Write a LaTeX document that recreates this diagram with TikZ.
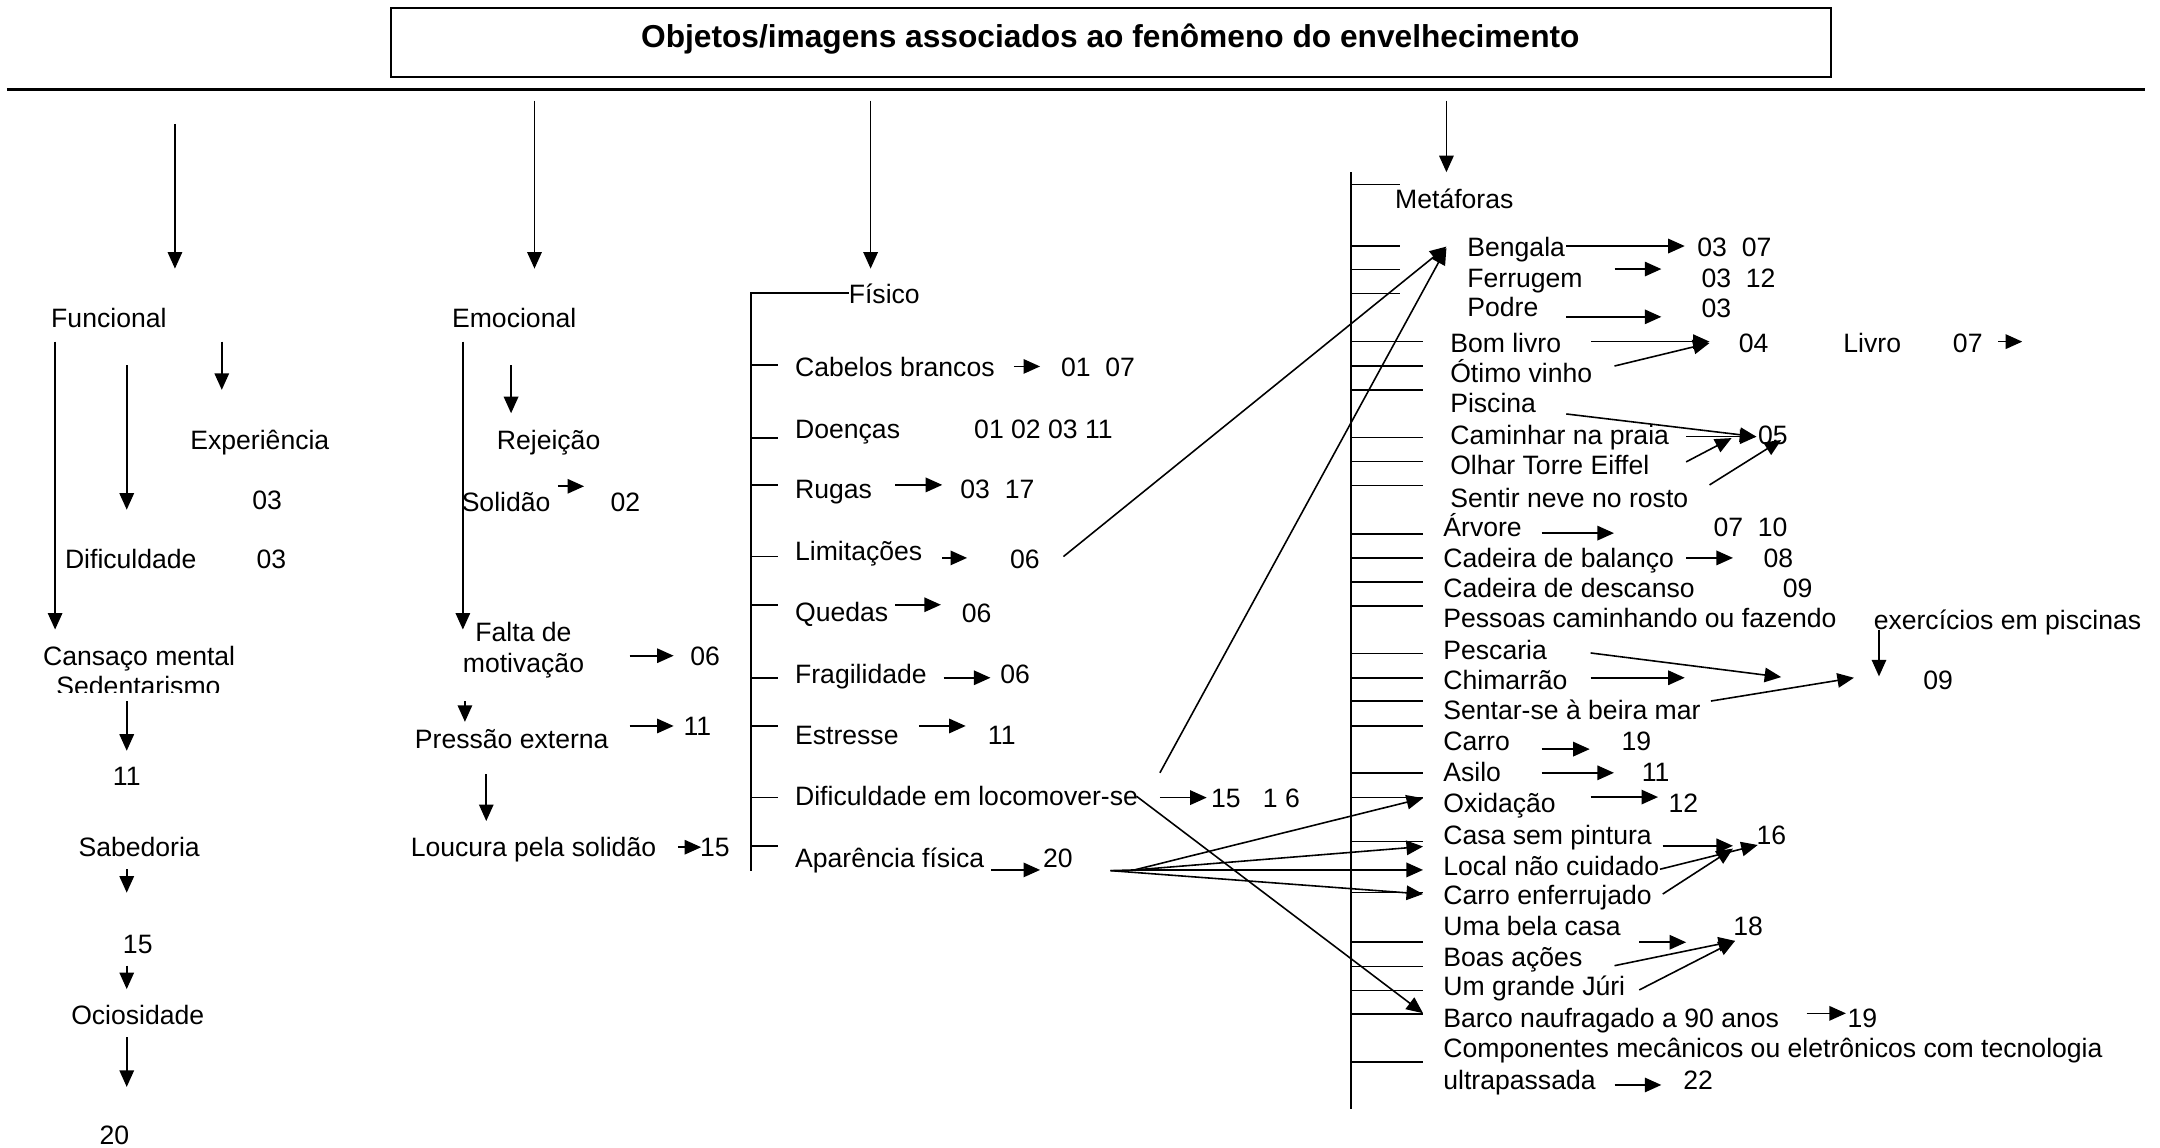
\documentclass[tikz,border=0pt]{standalone}
\usepackage{fontspec}
\setmainfont{Liberation Sans}
\usetikzlibrary{arrows.meta}
\tikzset{
  lbl/.style={anchor=west, inner sep=0pt, text height=16pt, text depth=2pt, font=\fontsize{19.3}{23}\selectfont},
  lblc/.style={lbl, anchor=center},
  ar/.style={-{Triangle[length=12pt,width=10.5pt]}, line width=1.15pt},
  ln/.style={line width=1.15pt},
  barline/.style={line width=1.5pt},
}
\begin{document}
\begin{tikzpicture}[x=1pt,y=-1pt]
\useasboundingbox (0,0) rectangle (1568,833);
% title
\draw[line width=1.3pt] (284,6) rectangle (1329,56);
\node[font=\bfseries\fontsize{23}{27}\selectfont, inner sep=0pt] (title) at (806,28) {Objetos/imagens associados ao fenômeno do envelhecimento};
\draw[line width=1.7pt] (5,65) -- (1557,65);
% top arrows
\draw[ar] (127,90) -- (127,195);
\draw[ar] (388,73) -- (388,195);
\draw[ar] (632,73) -- (632,195);
\draw[ar] (1050,73) -- (1050,125);

% ---------- Funcional
\node[lbl] (func) at (37,231) {Funcional};
\node[lbl] (exp) at (138,319) {Experiência};
\node[lbl] (exp03) at (183,363) {03};
\node[lbl] (dif) at (47,406) {Dificuldade};
\node[lbl] (dif03) at (186,406) {03};
\node[lblc] (cans) at (101,476) {Cansaço mental};
\begin{scope}
\clip (0,485) rectangle (300,503);
\node[lblc] (sed) at (100.5,498) {Sedentarismo};
\end{scope}
\node[lblc] (f11) at (92,563) {11};
\node[lblc] (sab) at (101,615) {Sabedoria};
\node[lblc] (f15) at (100,685) {15};
\node[lblc] (oci) at (100,737) {Ociosidade};
\node[lblc] (f20) at (83,824) {20};
\draw[ar] (40,248) -- (40,457);
\draw[ar] (92,265) -- (92,370);
\draw[ar] (161,248) -- (161,283);
\draw[ar] (92,509) -- (92,545);
\draw[ar] (92,631) -- (92,648);
\draw[ar] (92,701) -- (92,718);
\draw[ar] (92,753) -- (92,789);

% ---------- Emocional
\node[lbl] (emo) at (328,231) {Emocional};
\node[lbl] (rej) at (360.5,319) {Rejeição};
\node[lbl] (sol) at (335,364) {Solidão};
\node[lbl] (e02) at (443,364) {02};
\node[lblc] (falta) at (380,459) {Falta de};
\node[lblc] (motiv) at (380,481) {motivação};
\node[lbl] (e06) at (501,476) {06};
\node[lbl] (press) at (301,536) {Pressão externa};
\node[lbl] (e11) at (496,527) {11};
\node[lbl] (louc) at (298,615) {Loucura pela solidão};
\node[lbl] (e15) at (508,615) {15};
\draw[ar] (336,248) -- (336,457);
\draw[ar] (371,265) -- (371,300);
\draw[ar] (405,353) -- (424,353);
\draw[ar] (457,476) -- (489,476);
\draw[ar] (337.5,509) -- (337.5,524);
\draw[ar] (457,527) -- (489,527);
\draw[ar] (353,562) -- (353,596);
\draw[ar] (492,615) -- (509,615);

% ---------- Fisico
\draw[barline] (616,213) -- (545,213) -- (545,632);
\foreach \yy in {265,318,352,404,439,492,527,579,614} \draw[ln] (545,\yy) -- (565,\yy);
\node[lbl] (fis) at (616,213) {Físico};
\node[lbl] (cab) at (577,266) {Cabelos brancos};
\node[lbl] (cabn) at (770,266) {01\ \ 07};
\node[lbl] (doe) at (577,311) {Doenças};
\node[lbl] (doen) at (707,311) {01 02 03 11};
\node[lbl] (rug) at (577,355) {Rugas};
\node[lbl] (rugn) at (697,355) {03\ \ 17};
\node[lbl] (lim) at (577,400) {Limitações};
\node[lbl] (limn) at (733,406) {06};
\node[lbl] (que) at (577,444) {Quedas};
\node[lbl] (quen) at (698,445) {06};
\node[lbl] (fra) at (577,489) {Fragilidade};
\node[lbl] (fran) at (726,489) {06};
\node[lbl] (est) at (577,533.5) {Estresse};
\node[lbl] (estn) at (717,533.5) {11};
\node[lbl] (loc) at (577,578) {Dificuldade em locomover-se};
\node[lbl] (locn) at (879,579) {15\ \ \ 1 6};
\node[lbl] (apa) at (577,623) {Aparência física};
\node[lbl] (apan) at (757,623) {20};
\draw[ar] (736,266) -- (755,266);
\draw[ar] (650,352) -- (684,352);
\draw[ar] (684,405) -- (702,405);
\draw[ar] (650,439) -- (683,439);
\draw[ar] (685,492) -- (719,492);
\draw[ar] (667,527) -- (701,527);
\draw[ar] (842,579) -- (876,579);
\draw[ar] (719.5,631.5) -- (755,631.5);
% long lines
\draw[ar] (772,404) -- (1050,179);
\draw[ar] (842,561) -- (1050,180);
\draw[ar] (825,578) -- (1033,735.5);
\coordinate (fanA) at (806,632);
\coordinate (fanB) at (823.5,631.5);
\draw[ln] (fanA) -- (fanB);
\draw[ar] (fanB) -- (1033,579.4);
\draw[ar] (fanB) -- (1033,614.5);
\draw[ar] (fanB) -- (1033,631.5);
\draw[ar] (fanA) -- (1033,649);

% ---------- Metaforas
\draw[barline] (981,125) -- (981,805);
\foreach \yy in {134,178.5,195.5,213} \draw[ln] (981,\yy) -- (1016,\yy);
\foreach \yy in {248,265.5,283,317.5,335,352.5,387.5,405,422.5,440,474.5,492,509,527,561,579,611,648,684,701.5,719,736,771} \draw[ln] (981,\yy) -- (1033,\yy);
\node[lbl] (met) at (1012.6,144.6) {Metáforas};
\node[lbl] (ben) at (1065,179.5) {Bengala};
\node[lbl] (benn) at (1232,179.5) {03\ \ 07};
\node[lbl] (fer) at (1065,202) {Ferrugem};
\node[lbl] (fern) at (1235,201.6) {03\ \ 12};
\node[lbl] (pod) at (1065,223) {Podre};
\node[lbl] (podn) at (1235,223.5) {03};
\node[lbl] (bom) at (1052.6,248.7) {Bom livro};
\node[lbl] (bomn) at (1262,249) {04};
\node[lbl] (liv) at (1338,249) {Livro};
\node[lbl] (livn) at (1417.5,249) {07};
\node[lbl] (oti) at (1052.6,271) {Ótimo vinho};
\node[lbl] (pis) at (1052.6,292.7) {Piscina};
\node[lbl] (cam) at (1052.6,315.8) {Caminhar na praia};
\node[lbl] (camn) at (1276,316) {05};
\node[lbl] (olh) at (1052.6,337.5) {Olhar Torre Eiffel};
\node[lbl] (sen) at (1052.6,361.6) {Sentir neve no rosto};
\node[lbl] (arv) at (1047.6,382.3) {Árvore};
\node[lbl] (arvn) at (1243.7,382.3) {07\ \ 10};
\node[lbl] (cbal) at (1047.6,405) {Cadeira de balanço};
\node[lbl] (cbaln) at (1280,405) {08};
\node[lbl] (cdes) at (1047.6,427) {Cadeira de descanso};
\node[lbl] (cdesn) at (1294,427) {09};
\node[lbl] (pes) at (1047.6,448.6) {Pessoas caminhando ou fazendo};
\node[lbl] (exe) at (1360,450) {exercícios em piscinas};
\node[lbl] (exen) at (1396,493.6) {09};
\node[lbl] (pesc) at (1047.6,471.8) {Pescaria};
\node[lbl] (chi) at (1047.6,493.6) {Chimarrão};
\node[lbl] (sent) at (1047.6,515.4) {Sentar-se à beira mar};
\node[lbl] (car) at (1047.6,538) {Carro};
\node[lbl] (carn) at (1177,538) {19};
\node[lbl] (asi) at (1047.6,560) {Asilo};
\node[lbl] (asin) at (1191.7,560) {11};
\node[lbl] (oxi) at (1047.6,583) {Oxidação};
\node[lbl] (oxin) at (1211,583) {12};
\node[lbl] (casa) at (1047.6,606) {Casa sem pintura};
\node[lbl] (casan) at (1275,606) {16};
\node[lbl] (loca) at (1047.6,628.6) {Local não cuidado};
\node[lbl] (carr) at (1047.6,649.7) {Carro enferrujado};
\node[lbl] (uma) at (1047.6,672) {Uma bela casa};
\node[lbl] (uman) at (1258,672) {18};
\node[lbl] (boa) at (1047.6,694.5) {Boas ações};
\node[lbl] (jur) at (1047.6,716) {Um grande Júri};
\node[lbl] (bar) at (1047.6,739) {Barco naufragado a 90 anos};
\node[lbl] (barn) at (1341,739) {19};
\node[lbl] (comp) at (1047.6,760.8) {Componentes mecânicos ou eletrônicos com tecnologia};
\node[lbl] (ult) at (1047.6,784) {ultrapassada};
\node[lbl] (ultn) at (1221.7,784) {22};
% metaphor arrows
\draw[ar] (1137,178.6) -- (1223,178.6);
\draw[ar] (1172,195.3) -- (1206,195.3);
\draw[ar] (1137,230) -- (1206,230);
\draw[ar] (1155,248) -- (1241,248);
\draw[ar] (1172,265.7) -- (1241,249);
\draw[ar] (1450.6,248) -- (1468,248);
\draw[ar] (1137,300.5) -- (1275,317);
\draw[ar] (1224,317) -- (1275,317);
\draw[ar] (1224,335.3) -- (1257,318);
\draw[ar] (1241,352) -- (1293,319.4);
\draw[ar] (1119,387) -- (1171.6,387);
\draw[ar] (1224,405) -- (1258,405);
\draw[ar] (1364,457) -- (1364,491);
\draw[ar] (1154.7,474) -- (1293,491.5);
\draw[ar] (1154.7,492) -- (1223,492);
\draw[ar] (1242,508.9) -- (1345.8,492);
\draw[ar] (1119,543.8) -- (1154,543.8);
\draw[ar] (1119,561) -- (1171.6,561);
\draw[ar] (1154.7,578.6) -- (1203.6,578.6);
\draw[ar] (1207,614) -- (1258,614);
\draw[ar] (1205,631) -- (1276,613.4);
\draw[ar] (1207,649) -- (1258,616);
\draw[ar] (1190,684) -- (1224,684);
\draw[ar] (1172,701) -- (1259.5,683);
\draw[ar] (1190,718.6) -- (1259.5,683);
\draw[ar] (1311.5,735.6) -- (1340,735.6);
\draw[ar] (1172,787.6) -- (1206,787.6);
\end{tikzpicture}
\end{document}
